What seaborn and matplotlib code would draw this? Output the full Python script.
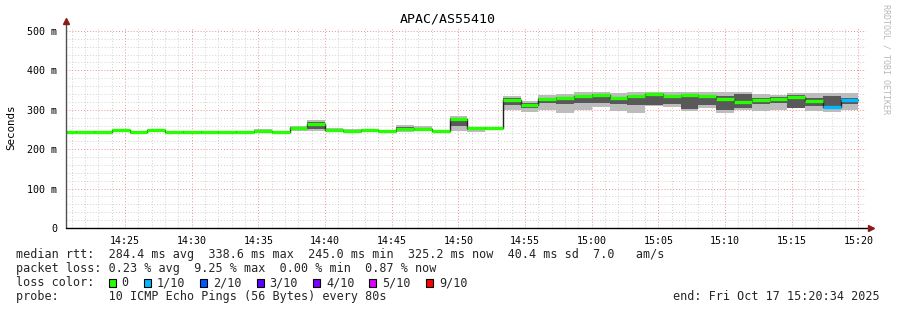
import numpy as np
import pandas as pd
import matplotlib
matplotlib.use("Agg")
import matplotlib.pyplot as plt
import seaborn as sns
from matplotlib.patches import Rectangle
from matplotlib.ticker import FixedLocator, MultipleLocator

# ---------------- data ----------------
title = "APAC/AS55410"
ylabel = "Seconds"
step_seconds = 80          # probe interval (one step every 80 s starting 14:20:00)
view_start_min = 34 / 60   # view window 14:20:34 .. 15:20:34, minutes after 14:20:00
view_end_min = 60 + 34 / 60

median_ms = [244.5, 244.5, 244.5, 247.5, 244.5, 247.5, 244.5, 244.5, 244.5, 244.5,
             244.5, 245.0, 244.5, 253.0, 263.0, 249.0, 245.0, 248.0, 245.0, 252.0,
             251.0, 246.5, 276.0, 254.0, 254.0, 325.0, 313.0, 327.0, 330.0, 335.0,
             338.0, 330.0, 334.0, 339.0, 335.0, 337.5, 336.0, 328.5, 320.0, 325.0,
             328.0, 333.5, 322.0, 306.0, 325.0]
smoke_lo = [244, 244, 244, 246, 244, 246, 244, 244, 244, 244,
            244, 244, 244, 245, 245, 246, 244, 246, 244, 244,
            246, 245, 245, 244, 252, 300, 295, 300, 293, 300,
            308, 296, 292, 310, 307, 296, 304, 292, 300, 298,
            300, 305, 298, 294, 300]
smoke_hi = [246, 246, 246, 249, 246, 249, 246, 246, 246, 246,
            246, 250, 246, 258, 273, 255, 252, 250, 247, 262,
            258, 248, 285, 256, 256, 336, 323, 338, 340, 344,
            344, 342, 344, 344, 344, 344, 344, 344, 344, 340,
            338, 342, 342, 342, 342]
core_lo = [244, 244, 244, 247, 244, 247, 244, 244, 244, 244,
           244, 244, 244, 249, 250, 247, 244, 247, 244, 246,
           248, 246, 260, 249, 253, 312, 305, 318, 315, 318,
           318, 315, 312, 312, 315, 303, 312, 300, 305, 315,
           318, 305, 310, 306, 315]
core_hi = [245, 245, 245, 248, 245, 248, 245, 245, 245, 245,
           245, 246, 245, 256, 268, 252, 246, 249, 246, 257,
           254, 247, 280, 255, 255, 330, 318, 330, 333, 336,
           340, 333, 336, 340, 336, 338, 338, 335, 340, 330,
           332, 338, 330, 335, 330]
loss_tenths = [0, 0, 0, 0, 0, 0, 0, 0, 0, 0,
               0, 0, 0, 0, 0, 0, 0, 0, 0, 0,
               0, 0, 0, 0, 0, 0, 0, 0, 0, 0,
               0, 0, 0, 0, 0, 0, 0, 0, 0, 0,
               0, 0, 0, 1, 1]

xtick_minutes = [5, 10, 15, 20, 25, 30, 35, 40, 45, 50, 55, 60]
xtick_labels = ["14:25", "14:30", "14:35", "14:40", "14:45", "14:50",
                "14:55", "15:00", "15:05", "15:10", "15:15", "15:20"]
ytick_values = [0, 100, 200, 300, 400, 500]
ytick_labels = ["0", "100 m", "200 m", "300 m", "400 m", "500 m"]

loss_levels = ["0", "1/10", "2/10", "3/10", "4/10", "5/10", "9/10"]
loss_level_tenths = [0, 1, 2, 3, 4, 5, 9]
loss_colors = ["#26ff00", "#00b8ff", "#0059ff", "#5e00ff", "#7e00ff", "#dd00ff", "#ff0000"]

line_median = "median rtt:  284.4 ms avg  338.6 ms max  245.0 ms min  325.2 ms now  40.4 ms sd  7.0   am/s"
line_loss = "packet loss: 0.23 % avg  9.25 % max  0.00 % min  0.87 % now"
line_color_label = "loss color:"
line_probe = "probe:       10 ICMP Echo Pings (56 Bytes) every 80s"
line_end = "end: Fri Oct 17 15:20:34 2025"
watermark = "RRDTOOL / TOBI OETIKER"

# ---------------- figure ----------------
W, H = 897, 310
sns.set_theme(style="white")
plt.rcParams["font.family"] = ["DejaVu Sans Mono", "DejaVu Sans"]

fig = plt.figure(figsize=(W / 100, H / 100), dpi=100)
fig.patch.set_facecolor("white")
ax_left, ax_right, ax_top, ax_bot = 66, 866, 27, 228
ax = fig.add_axes([ax_left / W, 1 - ax_bot / H, (ax_right - ax_left) / W, (ax_bot - ax_top) / H])
ax.set_facecolor("white")

n = len(median_ms)
starts = np.arange(n) * step_seconds / 60.0
ends = starts + step_seconds / 60.0
edges = np.append(starts, ends[-1])

df = pd.DataFrame({"t": edges, "median": median_ms + [median_ms[-1]]})

def ext(a):
    return list(a) + [a[-1]]

# smoke
ax.fill_between(edges, ext(smoke_lo), ext(smoke_hi), step="post", color="#bcbcbc", lw=0, zorder=2)
ax.fill_between(edges, ext(core_lo), ext(core_hi), step="post", color="#595959", lw=0, zorder=3)

# median step line (dark)
sns.lineplot(data=df, x="t", y="median", drawstyle="steps-post", color="#202020",
             linewidth=1.0, ax=ax, zorder=4, legend=False)

# loss-coloured median bars
cmap = dict(zip(loss_level_tenths, loss_colors))
seg_colors = [cmap[l] for l in loss_tenths]
ax.hlines(median_ms, starts, ends, colors=seg_colors, linewidth=2.4, zorder=5)

ax.set_xlim(view_start_min, view_end_min)
ax.set_ylim(0, 510)

# ticks & grid
ax.xaxis.set_major_locator(FixedLocator(xtick_minutes))
ax.set_xticklabels(xtick_labels)
ax.xaxis.set_minor_locator(MultipleLocator(1))
ax.yaxis.set_major_locator(FixedLocator(ytick_values))
ax.set_yticklabels(ytick_labels)
ax.yaxis.set_minor_locator(MultipleLocator(20))
ax.tick_params(axis="both", which="major", direction="out", length=3, width=0.8,
               color="#404040", labelsize=7.2, labelcolor="#000000")
ax.tick_params(axis="both", which="minor", direction="out", length=1.8, width=0.6, color="#606060")
ax.tick_params(axis="x", which="major", pad=2.5)
ax.tick_params(axis="y", which="major", pad=3.5)
ax.set_axisbelow(True)
ax.grid(which="minor", color="#d0d0d0", linestyle=(0, (1, 2)), linewidth=0.7)
ax.grid(which="major", color="#f09090", linestyle=(0, (1, 2)), linewidth=0.7)

for s in ["top", "right", "left", "bottom"]:
    ax.spines[s].set_visible(False)
# axes lines with arrows
ax.plot([0, 0], [0, 1.02], transform=ax.transAxes, color="#505050", lw=1.0, clip_on=False, zorder=6)
ax.plot([0, 1.004], [0, 0], transform=ax.transAxes, color="#000000", lw=1.0, clip_on=False, zorder=6)
ax.plot([0], [1.03], marker="^", ms=4, color="#8b1a1a", transform=ax.transAxes, clip_on=False, zorder=7)
ax.plot([1.006], [0], marker=">", ms=4, color="#8b1a1a", transform=ax.transAxes, clip_on=False, zorder=7)

ax.set_xlabel("")
ax.set_ylabel("")

def fx(px):
    return px / W

def fy(py):
    return 1 - py / H

fig.text(fx(448), fy(19), title, ha="center", va="center", fontsize=9.5, color="#000000")
fig.text(fx(11), fy(127), ylabel, ha="center", va="center", rotation=90, fontsize=7.8, color="#000000")
fig.text(fx(886), fy(4), watermark, ha="center", va="top", rotation=270, fontsize=6.0, color="#b8b8b8")

fs = 8.5
cw = 7.1
fig.text(fx(16), fy(254.7), line_median, ha="left", va="center", fontsize=fs)
fig.text(fx(16), fy(268.3), line_loss, ha="left", va="center", fontsize=fs)
fig.text(fx(16), fy(282.7), line_color_label, ha="left", va="center", fontsize=fs)
fig.text(fx(16), fy(296.7), line_probe, ha="left", va="center", fontsize=fs)
fig.text(fx(880), fy(296.7), line_end, ha="right", va="center", fontsize=fs)

x = 108.7
for lab, col in zip(loss_levels, loss_colors):
    fig.patches.append(Rectangle((fx(x), fy(286.7)), 7 / W, 8 / H, transform=fig.transFigure,
                                 facecolor=col, edgecolor="#000000", linewidth=0.8, figure=fig))
    fig.text(fx(x + 13), fy(282.7), lab, ha="left", va="center", fontsize=fs)
    x = x + 13 + len(lab) * cw + 15

fig.savefig("out.png", dpi=100, facecolor="white")
